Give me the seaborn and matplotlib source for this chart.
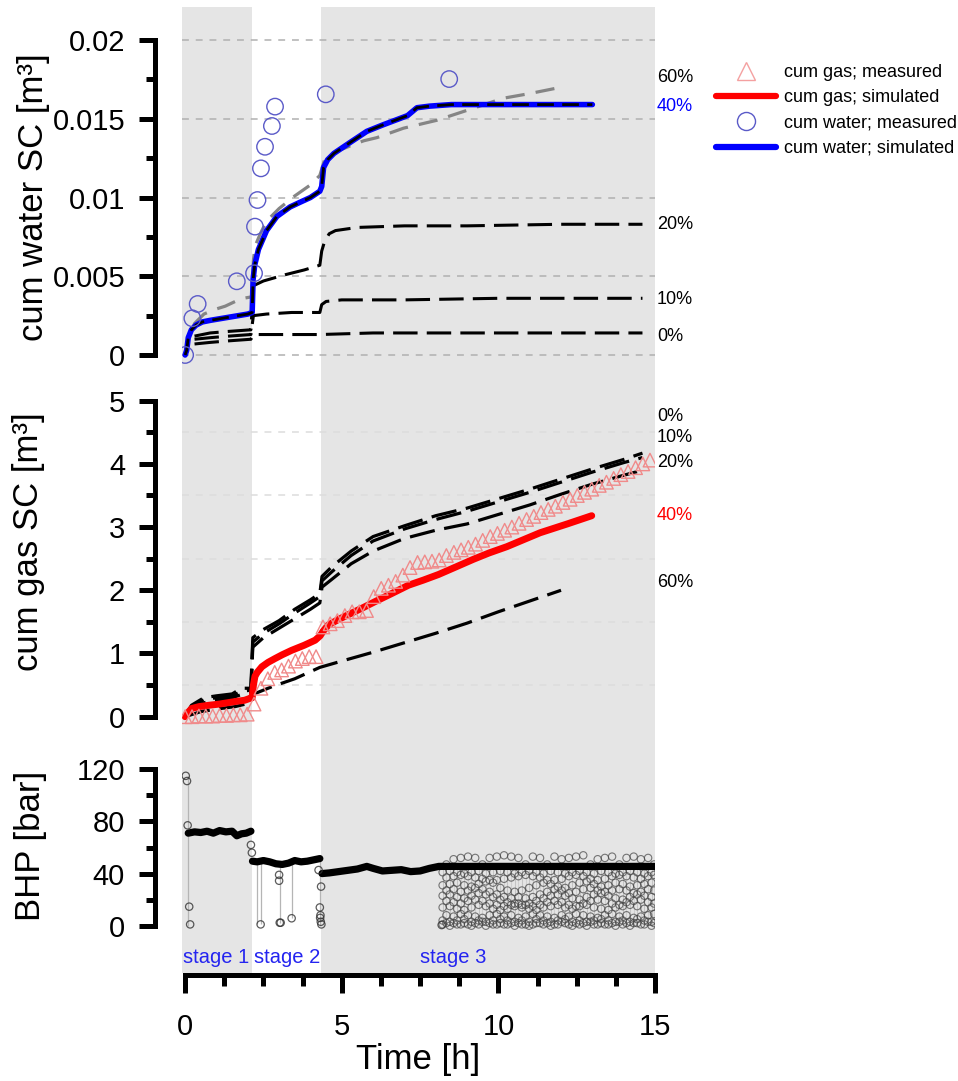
import numpy as np
import matplotlib
matplotlib.use("Agg")
import matplotlib.pyplot as plt
from matplotlib.lines import Line2D
from matplotlib.ticker import FixedLocator, FormatStrFormatter
import seaborn as sns

# ---------------- stages [h] ----------------
stage_shaded = [(-0.1, 2.15), (4.35, 15.0)]
stage_names = ["stage 1", "stage 2", "stage 3"]
stage_text_t = [-0.08, 2.2, 7.5]

# ---------------- cumulative water SC [m3] ----------------
w_meas_t = [0.0, 0.23, 0.40, 1.65, 2.20, 2.23, 2.31, 2.42, 2.55, 2.77, 2.87, 4.49, 8.43]
w_meas_v = [0.0, 0.00233, 0.00324, 0.00468, 0.00519, 0.00815, 0.00984, 0.01185,
            0.01322, 0.01454, 0.01577, 0.01655, 0.01752]

w40_t = [0.0, 0.05, 0.1, 0.2, 0.35, 0.55, 0.8, 1.1, 1.4, 1.7, 2.0, 2.14, 2.17, 2.22,
         2.34, 2.6, 2.93, 3.35, 3.67, 4.0, 4.3, 4.36, 4.42, 4.55, 4.75, 5.27, 5.8,
         6.3, 6.7, 7.1, 7.4, 7.8, 8.5, 10.0, 11.5, 13.0]
w40_v = [0.0, 0.0003, 0.0011, 0.0016, 0.0019, 0.0021, 0.0022, 0.0023, 0.0024, 0.0025,
         0.0026, 0.0027, 0.0048, 0.0057, 0.0067, 0.0079, 0.0088, 0.0094, 0.0097,
         0.0100, 0.0104, 0.0107, 0.0119, 0.0124, 0.0128, 0.0135, 0.0142, 0.0146,
         0.0149, 0.0152, 0.0157, 0.0158, 0.0159, 0.0159, 0.0159, 0.0159]

w60_t = [0.0, 0.1, 0.3, 0.6, 0.96, 1.28, 1.6, 1.86, 2.14, 2.18, 2.23, 2.4, 2.6, 3.0,
         3.5, 4.0, 4.3, 4.45, 4.8, 5.3, 5.7, 6.12, 6.97, 8.03, 9.1, 10.15, 11.0, 12.0]
w60_v = [0.0, 0.0010, 0.0020, 0.0026, 0.0029, 0.0031, 0.0034, 0.0036, 0.0037, 0.0060,
         0.0069, 0.0077, 0.0085, 0.0093, 0.0101, 0.0108, 0.0114, 0.0124, 0.0129,
         0.0133, 0.0136, 0.0138, 0.0144, 0.0149, 0.0156, 0.0163, 0.0166, 0.0170]

w20_t = [0.3, 0.8, 1.4, 2.1, 2.18, 2.5, 3.2, 3.8, 4.3, 4.36, 4.45, 4.6, 4.8, 5.5,
         7.0, 9.0, 12.0, 14.6]
w20_v = [0.0012, 0.0014, 0.0015, 0.0016, 0.0044, 0.0047, 0.0051, 0.0054, 0.0057,
         0.0066, 0.0072, 0.0077, 0.0079, 0.0081, 0.0082, 0.0082, 0.0083, 0.0083]

w10_t = [0.3, 0.8, 1.4, 2.1, 2.18, 2.6, 3.4, 4.3, 4.36, 4.5, 5.0, 7.0, 10.0, 14.6]
w10_v = [0.0010, 0.0011, 0.0012, 0.0013, 0.0025, 0.0026, 0.0027, 0.0027, 0.0032,
         0.0034, 0.0035, 0.0035, 0.0036, 0.0036]

w0_t = [0.3, 0.8, 1.4, 2.1, 2.18, 3.0, 4.3, 6.0, 10.0, 14.6]
w0_v = [0.0007, 0.0008, 0.0009, 0.0010, 0.0013, 0.0013, 0.0013, 0.0014, 0.0014, 0.0014]

w_pct_text = ["60%", "40%", "20%", "10%", "0%"]
w_pct_y = [0.0176, 0.01575, 0.0083, 0.0035, 0.0012]
w_pct_color = ["black", "#0000ff", "black", "black", "black"]

# ---------------- cumulative gas SC [m3] ----------------
g_meas_t = [0.0, 0.22, 0.44, 0.66, 0.88, 1.1, 1.32, 1.54, 1.76, 1.98,
            2.2, 2.42, 2.64, 2.86, 3.08, 3.3, 3.52, 3.74, 3.96, 4.18,
            4.4, 4.63, 4.86, 5.1, 5.33, 5.56, 5.79, 6.02, 6.26, 6.49, 6.72, 6.95,
            7.18, 7.42, 7.65, 7.88, 8.11, 8.34, 8.58, 8.81, 9.04, 9.27, 9.5, 9.74,
            9.97, 10.2, 10.43, 10.66, 10.9, 11.13, 11.36, 11.59, 11.82, 12.06, 12.29,
            12.52, 12.75, 12.98, 13.22, 13.45, 13.68, 13.91, 14.14, 14.38, 14.61, 14.84]
g_meas_v = [0.0, 0.0, 0.01, 0.01, 0.01, 0.02, 0.02, 0.03, 0.03, 0.04,
            0.2, 0.45, 0.6, 0.7, 0.74, 0.8, 0.88, 0.92, 0.95, 0.95,
            1.42, 1.47, 1.52, 1.6, 1.66, 1.66, 1.68, 1.9, 2.03, 2.08, 2.14, 2.24,
            2.36, 2.44, 2.45, 2.46, 2.48, 2.55, 2.6, 2.64, 2.68, 2.73, 2.79, 2.85,
            2.9, 2.95, 3.0, 3.06, 3.12, 3.17, 3.23, 3.28, 3.33, 3.39, 3.44,
            3.5, 3.55, 3.6, 3.66, 3.71, 3.77, 3.83, 3.88, 3.94, 4.0, 4.06]

g40_t = [0.0, 0.1, 0.21, 0.45, 0.75, 1.1, 1.6, 1.9, 2.07, 2.14, 2.18, 2.23, 2.3, 2.45,
         2.65, 2.87, 3.1, 3.4, 3.8, 4.15, 4.31, 4.4, 4.57, 4.9, 5.32, 5.7, 6.06, 6.6,
         7.13, 7.6, 8.09, 8.6, 9.2, 9.7, 10.27, 10.8, 11.33, 12.2, 12.98]
g40_v = [0.0, 0.07, 0.13, 0.16, 0.18, 0.2, 0.24, 0.26, 0.29, 0.3, 0.5, 0.64, 0.7, 0.79,
         0.86, 0.92, 0.98, 1.05, 1.13, 1.21, 1.28, 1.35, 1.45, 1.54, 1.64, 1.73, 1.82,
         1.95, 2.08, 2.16, 2.25, 2.36, 2.49, 2.59, 2.69, 2.8, 2.91, 3.05, 3.18]

g_sens_t = [0.0, 0.2, 0.6, 1.0, 1.5, 1.8, 2.1, 2.16, 2.5, 3.0, 3.5, 4.0, 4.3, 4.37,
            4.7, 5.3, 6.0, 7.0, 8.0, 9.0, 10.0, 11.0, 12.0, 13.0, 14.0, 14.6]
g0_v = [0.0, 0.18, 0.3, 0.33, 0.36, 0.45, 0.45, 1.25, 1.38, 1.52, 1.7, 1.85, 1.95, 2.22,
        2.38, 2.62, 2.85, 3.02, 3.18, 3.3, 3.45, 3.6, 3.76, 3.92, 4.07, 4.17]
g10_v = [0.0, 0.15, 0.27, 0.3, 0.33, 0.4, 0.42, 1.18, 1.32, 1.47, 1.64, 1.8, 1.9, 2.15,
         2.3, 2.55, 2.78, 2.97, 3.12, 3.25, 3.4, 3.55, 3.71, 3.87, 4.02, 4.1]
g20_v = [0.0, 0.12, 0.22, 0.26, 0.3, 0.35, 0.38, 1.1, 1.25, 1.4, 1.55, 1.7, 1.8, 2.05,
         2.18, 2.42, 2.62, 2.82, 2.95, 3.05, 3.2, 3.35, 3.52, 3.68, 3.82, 3.9]

g60_t = [0.0, 0.5, 1.0, 1.6, 2.1, 2.2, 2.8, 3.5, 4.3, 5.0, 6.0, 7.0, 8.0, 9.0, 10.0,
         11.0, 12.0]
g60_v = [0.0, 0.08, 0.12, 0.16, 0.22, 0.36, 0.48, 0.6, 0.78, 0.88, 1.02, 1.17, 1.32,
         1.48, 1.66, 1.83, 2.0]

g_pct_text = ["0%", "10%", "20%", "40%", "60%"]
g_pct_y = [4.75, 4.41, 4.02, 3.18, 2.13]
g_pct_color = ["black", "black", "black", "#ff0000", "black"]

# ---------------- BHP [bar] ----------------
bhp_s1_t = [0.1, 0.3, 0.5, 0.7, 0.9, 1.1, 1.3, 1.5, 1.65, 1.8, 1.95, 2.1]
bhp_s1_v = [71, 72, 71.5, 72.5, 71, 73, 72, 72.5, 69, 70.5, 71, 72.5]
bhp_s2_t = [2.15, 2.3, 2.5, 2.7, 2.9, 3.1, 3.3, 3.5, 3.7, 3.9, 4.1, 4.3]
bhp_s2_v = [49.5, 49, 50, 49, 47.5, 47, 48, 50, 49, 49.5, 50.5, 51.5]
bhp_s3_t = [4.37, 4.6, 4.9, 5.2, 5.5, 5.8, 6.0, 6.3, 6.6, 6.9, 7.2, 7.5, 7.8, 8.1,
            8.3, 10.0, 12.0, 14.0, 15.0]
bhp_s3_v = [40, 40.5, 41.5, 42.5, 43.5, 45.5, 44, 42, 42.5, 43, 41.5, 42, 44, 45.5,
            45.5, 45.5, 45.5, 45.5, 45.5]

# isolated readings during shut-ins / restarts
bhp_drop_t = [0.02, 0.06, 0.08, 0.13, 0.16, 2.1, 2.13, 2.41, 3.0, 3.0, 3.02, 3.05,
              3.4, 4.26, 4.34, 4.3, 4.31, 4.33, 4.35, 4.32, 8.19]
bhp_drop_v = [115, 111, 77, 14.6, 1, 62, 56, 1, 39, 34.5, 2.3, 2.3, 5.7, 42.7, 30, 14,
              6, 3, 1, 8, 0.5]
bhp_conn_t = [0.1, 2.29, 2.41, 3.02, 3.4, 4.31]
bhp_conn_lo = [0, 1, 1, 2, 5.7, 0]
bhp_conn_hi = [115, 49, 49, 47, 50, 51]

# stage 3 cyclic readings
cloud_ta = [8.22, 8.45, 8.68, 8.91, 9.14, 9.37, 9.60, 9.83, 10.06, 10.29, 10.52, 10.75,
            10.98, 11.21, 11.44, 11.67, 11.90, 12.13, 12.36, 12.59, 12.82, 13.05, 13.28,
            13.51, 13.74, 13.97, 14.20, 14.43, 14.66, 14.89]
cloud_tb = [8.34, 8.57, 8.80, 9.03, 9.26, 9.49, 9.72, 9.95, 10.18, 10.41, 10.64, 10.87,
            11.10, 11.33, 11.56, 11.79, 12.02, 12.25, 12.48, 12.71, 12.94, 13.17, 13.40,
            13.63, 13.86, 14.09, 14.32, 14.55, 14.78, 14.97]
cloud_a = [
    [41, 42, 41, 40, 41, 42, 40, 41, 42, 41, 40, 41, 42, 41, 40, 42, 41, 40, 41, 42, 41, 40, 42, 41, 40, 41, 42, 41, 40, 41],
    [31, 32, 33, 31, 30, 32, 34, 33, 29, 27, 26, 27, 29, 31, 33, 32, 30, 29, 31, 33, 34, 32, 30, 31, 33, 32, 30, 31, 32, 33],
    [23, 24, 22, 21, 23, 25, 24, 22, 20, 18, 17, 16, 17, 19, 21, 23, 24, 23, 21, 20, 22, 24, 25, 23, 21, 20, 22, 24, 23, 22],
    [14, 15, 13, 12, 14, 16, 15, 13, 12, 13, 15, 14, 13, 12, 14, 15, 16, 14, 13, 15, 16, 14, 13, 12, 14, 15, 16, 15, 13, 14],
    [4, 3, 4, 5, 3, 4, 3, 4, 5, 4, 3, 4, 3, 5, 4, 3, 4, 5, 3, 4, 3, 4, 5, 4, 3, 4, 3, 5, 4, 3],
    [1, 0, 1, 2, 0, 1, 0, 1, 2, 1, 0, 1, 0, 2, 1, 0, 1, 2, 0, 1, 0, 1, 2, 1, 0, 1, 0, 2, 1, 0],
]
cloud_b = [
    [47, 51, 52, 53, 52, 47, 52, 53, 54, 53, 52, 47, 53, 52, 47, 53, 51, 52, 53, 54, 47, 51, 52, 53, 47, 52, 53, 51, 52, 47],
    [37, 38, 39, 38, 37, 36, 35, 35, 36, 37, 38, 39, 38, 37, 35, 35, 36, 38, 39, 38, 36, 35, 36, 38, 39, 38, 37, 36, 38, 39],
    [27, 28, 26, 27, 29, 28, 26, 24, 22, 21, 22, 21, 22, 24, 26, 28, 27, 25, 26, 28, 29, 27, 26, 27, 28, 27, 25, 26, 28, 27],
    [19, 18, 17, 19, 20, 19, 17, 16, 15, 16, 17, 16, 15, 16, 18, 19, 18, 16, 15, 17, 19, 20, 19, 17, 16, 18, 19, 20, 18, 17],
    [8, 7, 9, 8, 7, 6, 8, 9, 7, 8, 6, 7, 9, 8, 7, 6, 8, 7, 9, 8, 7, 6, 8, 9, 7, 8, 6, 7, 8, 9],
    [2, 2, 1, 1, 2, 3, 2, 1, 1, 2, 2, 1, 1, 2, 2, 1, 3, 1, 2, 2, 3, 1, 1, 2, 3, 2, 2, 1, 3, 2],
]

# ---------------- figure ----------------
sns.set_theme(style="white")
plt.rcParams["font.family"] = ["Liberation Sans", "DejaVu Sans"]
plt.rcParams["text.color"] = "black"
plt.rcParams["xtick.color"] = "black"
plt.rcParams["ytick.color"] = "black"

W, H = 958, 1081
fig = plt.figure(figsize=(W / 100, H / 100), dpi=100)


def box(x0, y0, x1, y1):
    return [x0 / W, 1 - y1 / H, (x1 - x0) / W, (y1 - y0) / H]


XLIM = (-0.1, 15.0)
ax_bg = fig.add_axes(box(182, 7, 655, 973))
ax_bg.set_xlim(*XLIM)
for a, b in stage_shaded:
    ax_bg.axvspan(a, b, color="#e5e5e5", lw=0)
ax_bg.axis("off")

ax_w = fig.add_axes(box(182, 7, 655, 378))
ax_g = fig.add_axes(box(182, 378, 655, 740))
ax_p = fig.add_axes(box(182, 740, 655, 973))


def style_y(ax, ylim, major, minor, fmt="%g"):
    ax.set_xlim(*XLIM)
    ax.set_ylim(*ylim)
    ax.patch.set_alpha(0)
    for s in ["top", "right", "bottom"]:
        ax.spines[s].set_visible(False)
    sp = ax.spines["left"]
    sp.set_position(("outward", 19.5))
    sp.set_linewidth(3.6)
    sp.set_color("black")
    sp.set_bounds(major[0], major[-1])
    ax.yaxis.set_major_locator(FixedLocator(major))
    ax.yaxis.set_minor_locator(FixedLocator(minor))
    ax.yaxis.set_major_formatter(FormatStrFormatter(fmt))
    ax.tick_params(axis="y", which="major", left=True, direction="out", length=11.5,
                   width=3.6, labelsize=21, pad=10, color="black")
    ax.tick_params(axis="y", which="minor", left=True, direction="out", length=6.5,
                   width=3.6, color="black")
    ax.tick_params(axis="x", which="both", bottom=False, labelbottom=False)
    ax.set_xlabel("")
    ax.set_ylabel("")


def line(ax, t, v, **kw):
    sns.lineplot(x=t, y=v, ax=ax, estimator=None, sort=False, **kw)


LONG = (0, (8, 3))

# --- water panel ---
ax_w.yaxis.grid(True, which="major", color="#b0b0b0", linestyle=(0, (4.5, 4.5)), linewidth=1.1)
ax_w.set_axisbelow(True)
for t, v in [(w0_t, w0_v), (w10_t, w10_v), (w20_t, w20_v)]:
    line(ax_w, t, v, color="black", linewidth=2.2, linestyle=LONG)
line(ax_w, w60_t, w60_v, color="#858585", linewidth=2.3, linestyle=(0, (6, 3.5)))
line(ax_w, w40_t, w40_v, color="#0000ff", linewidth=4.0, solid_capstyle="round")
line(ax_w, w40_t, w40_v, color="black", linewidth=2.0, linestyle=(0, (6, 3)))
sns.scatterplot(x=w_meas_t, y=w_meas_v, ax=ax_w, marker="o", s=140, color="#5a5ac8",
                facecolors="none", edgecolor="#5a5ac8", linewidth=1.0, zorder=5)
style_y(ax_w, (-0.00146, 0.022095), [0, 0.005, 0.01, 0.015, 0.02],
        [0.0025, 0.0075, 0.0125, 0.0175])
for txt, y, c in zip(w_pct_text, w_pct_y, w_pct_color):
    ax_w.text(15.06, y, txt, color=c, fontsize=13, va="center", ha="left")

# --- gas panel ---
ax_g.yaxis.grid(True, which="minor", color="#dcdcdc", linestyle=(0, (4.5, 4.5)), linewidth=1.1)
ax_g.set_axisbelow(True)
for v in [g0_v, g10_v, g20_v]:
    line(ax_g, g_sens_t, v, color="black", linewidth=2.3, linestyle=LONG)
line(ax_g, g60_t, g60_v, color="black", linewidth=2.3, linestyle=LONG)
sns.scatterplot(x=g_meas_t, y=g_meas_v, ax=ax_g, marker="^", s=95, color="#f08a8a",
                facecolors="none", edgecolor="#f08a8a", linewidth=1.0, zorder=4)
line(ax_g, g40_t, g40_v, color="#ff0000", linewidth=5.0, solid_capstyle="round")
style_y(ax_g, (-0.369, 5.359), [0, 1, 2, 3, 4, 5], [0.5, 1.5, 2.5, 3.5, 4.5])
for txt, y, c in zip(g_pct_text, g_pct_y, g_pct_color):
    ax_g.text(15.06, y, txt, color=c, fontsize=13, va="center", ha="left")

# --- BHP panel ---
ax_p.vlines(cloud_ta, 0, 46, color="#c4c4c4", linewidth=0.8, zorder=1)
ax_p.vlines(cloud_tb, 0, 46, color="#cfcfcf", linewidth=0.8, zorder=1)
ax_p.vlines(bhp_conn_t, bhp_conn_lo, bhp_conn_hi, color="#b5b5b5", linewidth=0.9, zorder=1)
cx = np.concatenate([np.tile(cloud_ta, len(cloud_a)), np.tile(cloud_tb, len(cloud_b))])
cy = np.concatenate([np.ravel(cloud_a), np.ravel(cloud_b)])
sns.scatterplot(x=cx, y=cy, ax=ax_p, marker="o", s=28, color="#444444",
                facecolors="none", edgecolor="#444444", linewidth=0.8, alpha=0.7, zorder=3)
for t, v in [(bhp_s1_t, bhp_s1_v), (bhp_s2_t, bhp_s2_v), (bhp_s3_t, bhp_s3_v)]:
    line(ax_p, t, v, color="black", linewidth=5.2, solid_capstyle="round", zorder=4)
sns.scatterplot(x=bhp_drop_t, y=bhp_drop_v, ax=ax_p, marker="o", s=28, color="#333333",
                facecolors="none", edgecolor="#333333", linewidth=0.9, alpha=0.8, zorder=4)
style_y(ax_p, (-36.29, 142.48), [0, 40, 80, 120], [20, 60, 100], fmt="%d")
bsp = ax_p.spines["bottom"]
bsp.set_visible(True)
bsp.set_position(("outward", 1.5))
bsp.set_linewidth(3.6)
bsp.set_color("black")
bsp.set_bounds(0, 15)
ax_p.xaxis.set_major_locator(FixedLocator([0, 5, 10, 15]))
ax_p.xaxis.set_minor_locator(FixedLocator([1.25, 2.5, 3.75, 6.25, 7.5, 8.75, 11.25, 12.5, 13.75]))
ax_p.xaxis.set_major_formatter(FormatStrFormatter("%d"))
ax_p.tick_params(axis="x", which="major", bottom=True, labelbottom=True, direction="out",
                 length=13, width=3.6, labelsize=21, pad=14, color="black")
ax_p.tick_params(axis="x", which="minor", bottom=True, direction="out", length=8,
                 width=3.6, color="black")
for name, t in zip(stage_names, stage_text_t):
    ax_p.text(t, -24.5, name, color="#2424f0", fontsize=14.5, va="center", ha="left")

# --- axis titles ---
fig.text(34 / W, 1 - 197 / H, "cum water SC [m³]", rotation=90, fontsize=25, ha="center", va="center")
fig.text(29 / W, 1 - 542 / H, "cum gas SC [m³]", rotation=90, fontsize=25, ha="center", va="center")
fig.text(31 / W, 1 - 846 / H, "BHP [bar]", rotation=90, fontsize=25, ha="center", va="center")
fig.text(418 / W, 1 - 1060 / H, "Time [h]", fontsize=25, ha="center", va="center")

# --- legend ---
handles = [
    Line2D([], [], ls="none", marker="^", ms=13, mfc="none", mec="#f4a0a0", mew=1.0),
    Line2D([], [], color="#ff0000", lw=4.5, solid_capstyle="round"),
    Line2D([], [], ls="none", marker="o", ms=13, mfc="none", mec="#5a5ac8", mew=1.0),
    Line2D([], [], color="#0000ff", lw=4.5, solid_capstyle="round"),
]
labels = ["cum gas; measured", "cum gas; simulated", "cum water; measured", "cum water; simulated"]
fig.legend(handles, labels, loc="upper left", bbox_to_anchor=(716 / W, 1 - 64 / H),
           frameon=False, fontsize=13, handlelength=3.3, handletextpad=0.45,
           labelspacing=0.46, borderaxespad=0, borderpad=0)

fig.savefig("out.png", dpi=100)
